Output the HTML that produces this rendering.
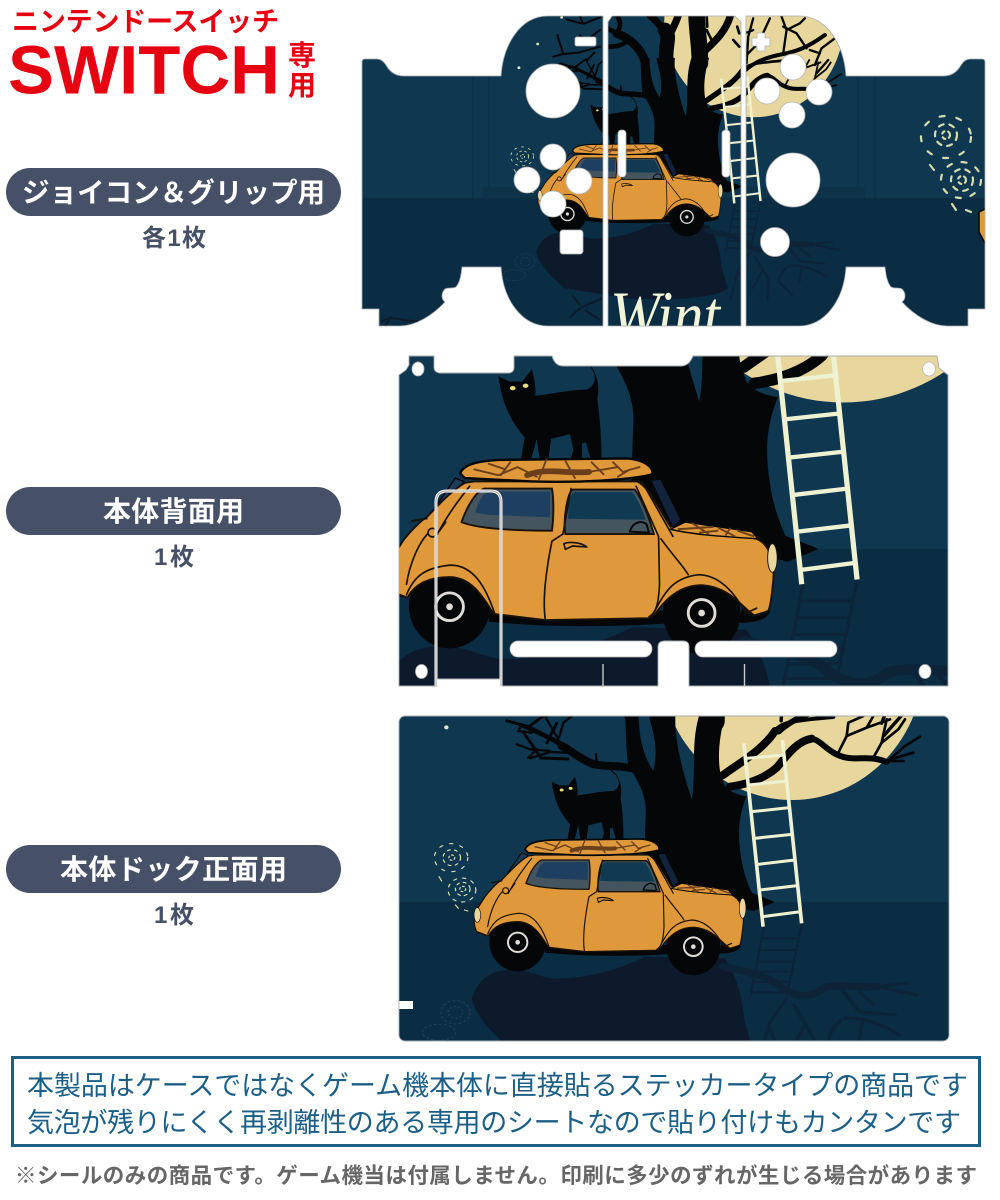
<!DOCTYPE html>
<html lang="ja"><head><meta charset="utf-8"><title>Switch skin</title>
<style>html,body{margin:0;padding:0;background:#fff}svg{display:block}
text{font-family:"Liberation Sans","Noto Sans CJK JP",sans-serif}</style></head><body>
<svg xmlns="http://www.w3.org/2000/svg" width="1000" height="1200" viewBox="0 0 1000 1200">
<defs>
<path id="sJL" d="M362,62 Q362,59 365,59 L377,59 Q382,59 386,65 Q392,76 404,76 L501,76 C503,45 520,16 548,16 L603,16 L603,326 L548,326 C522,326 503,300 501,267 L462,267 C461,276 460,282 456,287 C452,289 449,287 445,289 C441,293 441,299 445,302 C432,316 415,326 400,326 L379,326 L379,309 L362,309 Z"/>
<path id="sJR" d="M985,62 Q985,59 982,59 L970,59 Q965,59 961,65 Q955,76 943,76 L846,76 C844,45 827,16 799,16 L746,16 L746,326 L799,326 C825,326 844,300 846,267 L885,267 C886,276 887,282 891,287 C895,289 898,287 902,289 C906,293 906,299 902,302 C915,316 932,326 947,326 L968,326 L968,309 L985,309 Z"/>
<path id="sJM" d="M608,22 L612,16 L735,16 L741,22 L741,326 L608,326 Z"/>
<path id="sB" d="M399,375 L406,370 L409,365 L409,356 L434,356 L434,367 Q434,373 441,373 L508,373 Q514,373 514,367 L514,356 L552,356 Q555,366 563,366 L681,366 Q689,366 693,356 L937,356 L939,368 L948,375 L948,686 L689,686 L689,647 Q689,641 683,641 L665,641 Q658,641 658,647 L658,686 L502,686 L502,679 L437,679 L437,686 L399,686 Z"/>

<g id="art">
 <!-- moon -->
 <ellipse cx="792" cy="662" rx="132" ry="138" fill="#e8d79c"/>
 <g transform="translate(390,705) scale(.36364,.33333)">
  <!-- reflection -->
  <path d="M225,880 C240,830 270,800 320,795 C370,790 400,810 440,820 C520,825 620,800 700,755 L920,760 C950,800 970,880 975,950 C985,980 990,1010 1000,1040 C960,1080 800,1095 600,1085 L340,1040 C300,1000 240,950 225,880 Z" fill="#0c1a2b"/>
  <g fill="none" stroke="#0c2338" stroke-linecap="round">
   <path stroke-width="22" d="M915,785 C980,800 1040,810 1080,850 C1120,880 1160,880 1190,850 C1230,835 1280,850 1340,845"/>
   <path stroke-width="9" d="M1340,845 L1450,870 M1340,845 L1420,835 M1240,850 L1290,920 L1390,930 M1290,860 L1330,900 M1090,880 L1040,960 L1030,1010 M1110,900 L1165,1000 M1040,960 L1060,1010 M1250,940 C1300,935 1360,960 1400,990 M1240,945 C1215,970 1210,990 1205,1010 M1300,950 L1290,1010 M1140,960 L1100,1040 M1165,1000 L1160,1090 M1205,1010 L1260,1070 M1030,1010 L1010,1090"/>
   <path stroke-width="6" d="M1028,668 L990,880 M1132,660 L1095,850 M1022,700 L1122,700 M1018,735 L1118,735 M1012,770 L1113,770 M1006,800 L1108,800 M1000,832 L1100,830 M995,862 L1095,862"/>
  </g>
  <circle cx="155" cy="67" r="6" fill="#e7e9cf"/>
  <!-- spirals -->
  <g fill="none" stroke="#d5dcae" stroke-width="3.4" stroke-linecap="round">
   <circle cx="170" cy="458" r="8" stroke-dasharray="5 7"/><circle cx="170" cy="458" r="24" stroke-dasharray="8 12"/><ellipse cx="168" cy="458" rx="46" ry="42" stroke-dasharray="9 20"/>
   <circle cx="200" cy="552" r="8" stroke-dasharray="5 7"/><circle cx="200" cy="552" r="20" stroke-dasharray="8 11"/><ellipse cx="198" cy="555" rx="38" ry="36" stroke-dasharray="9 16"/>
   <path d="M135,515 L142,528 M180,600 L188,610 M205,615 L214,618"/>
  </g>
  <g fill="none" stroke="#1f4159" stroke-width="3">
   <ellipse cx="180" cy="922" rx="40" ry="35" stroke-dasharray="8 6"/><ellipse cx="180" cy="922" rx="20" ry="18" stroke-dasharray="6 6"/>
   <ellipse cx="135" cy="982" rx="46" ry="24" stroke-dasharray="8 6"/>
  </g>
 </g>

 <!-- tree + cat -->
 <g transform="translate(500,716) scale(.33333)">
  <path fill="#040608" d="M375,-10 L415,-10 C418,60 425,110 460,165 C478,90 455,40 445,-10 L527,-10 C520,70 550,170 575,250 C590,170 570,80 600,-10 L678,-10 C660,50 652,110 660,165 L672,205 C680,225 720,240 740,240 C715,300 714,350 720,400 C725,450 740,500 756,531 L825,558 L760,585 L430,500 L437,300 C440,260 430,215 385,150 C378,100 378,50 375,-10Z"/>
  <g fill="none" stroke="#040608" stroke-linecap="round" stroke-linejoin="round">
   <path stroke-width="24" d="M400,158 C350,145 300,155 270,140 C240,128 215,105 185,90"/>
   <path stroke-width="12" d="M190,92 C150,65 110,48 65,28"/>
   <path stroke-width="7" d="M65,28 L40,20 M175,70 L140,10 L135,-5 M178,62 L190,20 L215,0 M62,30 L55,45 L95,50 M200,110 L150,108 L90,127 M150,105 L90,100 L50,85 M110,100 L85,125 M290,135 L288,115"/>
   <path stroke-width="24" d="M690,212 C740,205 790,190 830,155 C860,120 890,75 935,68"/>
   <path stroke-width="18" d="M935,68 C965,72 985,115 1040,125 C1080,132 1110,118 1160,138"/>
   <path stroke-width="24" d="M668,178 C720,140 790,100 825,45"/>
   <path stroke-width="12" d="M825,45 C845,15 900,12 1000,3"/>
   <path stroke-width="8" d="M1015,110 L1040,60 L1045,20 L1090,0 M1040,60 L1100,35 L1170,10 M1120,125 L1145,80 L1195,40 M1160,138 L1215,90 L1260,62 M1170,130 L1240,110 M1165,135 L1210,135 M1100,35 L1120,0 M1145,80 L1160,10 M1195,40 L1215,10"/>
  </g>
  <!-- upper part only seen on the joycon -->
  <g transform="translate(-244.4,-220.9) scale(1.47)" fill="none" stroke="#040608" stroke-linecap="round" stroke-linejoin="round">
   <path stroke-width="26" d="M436,158 C425,120 400,90 350,70"/>
   <path stroke-width="14" d="M350,70 L322,55 M380,95 C360,110 340,110 322,110 M350,70 C370,40 355,25 350,15"/>
   <path stroke-width="44" d="M500,160 C492,110 515,80 495,60"/>
   <path stroke-width="22" d="M500,70 C480,45 465,30 450,15 M510,75 C520,50 530,35 535,15"/>
   <path stroke-width="50" d="M600,160 C600,100 590,60 590,10"/>
   <path stroke-width="22" d="M612,125 C650,90 680,60 692,15"/>
   <path stroke-width="8" d="M640,100 L620,60 M700,90 L718,110 M712,50 L718,70 M622,50 L620,15"/>
   <path stroke-width="12" d="M735,182 C770,150 810,140 850,132 C885,125 920,115 975,75"/>
   <path stroke-width="7" d="M850,130 L860,60 L900,40 M740,160 L745,80 L760,25 M780,90 L810,25 M920,115 L890,70 L850,50 M860,60 L845,20 M900,40 L915,25 M945,165 L965,115 L1005,85 M960,130 L930,120 M985,150 L950,190 M735,140 L775,100 M760,60 L735,70"/>
   <g stroke-width="6">
    <path d="M300,22 L250,42 L200,28 M250,42 L240,20 M300,60 L255,95 L240,75 M300,110 L235,128 L190,132 L172,75 M190,132 L160,140 M305,212 L225,172 L180,160 M305,238 L250,236 L215,185 M262,150 L283,128 M262,205 L282,165 M225,172 L255,150"/>
   </g>
   <circle cx="113" cy="102" r="4" fill="#e7e9cf" stroke="none"/>
   <circle cx="185" cy="22" r="4" fill="#e7e9cf" stroke="none"/>
  </g>
  <!-- cat -->
  <path fill="#040608" d="M155,197 L178,208 L205,208 L225,183 C232,205 234,232 232,238 C265,235 300,225 340,225 C360,215 362,195 345,175 C325,160 330,158 335,162 C360,180 368,215 362,245 C368,290 372,340 370,380 L352,385 L338,335 L330,338 C330,355 330,375 326,385 L300,385 L312,352 L305,318 L265,328 L258,385 L245,392 L235,328 L220,385 L200,385 L210,325 C190,300 165,270 155,197Z"/>
  <ellipse cx="185" cy="222" rx="6" ry="4.5" fill="#e8dc80"/><ellipse cx="212" cy="217" rx="6" ry="4.5" fill="#e8dc80"/>
 </g>

 <!-- car -->
 <g transform="translate(465,830) scale(.33333)">
  <path d="M115,148 L170,68 L188,75 L135,152 Z" fill="#1c3c5c" stroke="#040608" stroke-width="3"/>
  <path d="M578,72 L600,70 L642,155 L625,172 Z" fill="#12233b" stroke="#040608" stroke-width="3"/>
  <ellipse cx="158" cy="335" rx="85" ry="89" fill="#040608"/>
  <ellipse cx="685" cy="350" rx="81" ry="86" fill="#040608"/>
  <path d="M240,345 L610,345 L610,372 C500,380 350,380 240,368Z" fill="#040608"/>
  <path d="M770,340 L828,345 C825,365 790,372 760,370Z" fill="#040608"/>
  <!-- body -->
  <path d="M28,268 C30,240 45,225 60,200 C75,180 100,155 110,150 C130,130 160,95 190,78 L210,75 L550,75 C575,85 600,140 620,170 L640,165 L800,195 C825,205 838,240 835,280 C832,310 830,330 825,345 C815,350 805,352 795,355 C770,340 745,295 685,292 C640,292 610,320 588,352 L575,361 L360,365 L250,352 C225,310 200,275 158,275 C115,275 85,290 70,318 L35,305 C30,295 26,285 28,268 Z" fill="#e0993a" stroke="#1a1208" stroke-width="4" stroke-linejoin="round"/>
  <!-- windows -->
  <path d="M183,160 C195,125 215,95 230,90 L372,90 C376,110 376,150 372,178 C300,178 220,175 183,160 Z" fill="#44555f" stroke="#1a1208" stroke-width="4"/>
  <path d="M212,140 C218,115 230,98 240,96 L368,96 L368,150 L240,145 Z" fill="#1f3f60"/>
  <path d="M400,185 C395,150 405,100 415,92 L545,92 C560,110 575,150 585,185 Z" fill="#44555f" stroke="#1a1208" stroke-width="4"/>
  <path d="M406,153 C406,120 411,100 419,97 L540,97 C550,110 560,130 568,155 Z" fill="#0f3a52"/>
  <path d="M535,180 C540,160 560,155 570,165 L575,182 Z" fill="none" stroke="#040608" stroke-width="4"/>
  <!-- lines -->
  <g fill="none" stroke="#1a1208" stroke-width="3.5" stroke-linecap="round" stroke-linejoin="round">
   <path d="M412,90 L395,185 L372,200 C360,260 352,320 358,362"/>
   <path d="M548,85 L595,190 L597,290 C595,330 590,350 575,358"/>
   <path d="M560,75 L625,190 M600,195 C625,230 645,250 657,270"/>
   <path d="M68,312 C85,270 110,255 160,250 C210,250 235,300 252,350"/>
   <path d="M585,350 C610,300 630,275 680,270 C730,272 760,320 778,350 L800,340"/>
   <path d="M397,205 C410,200 435,203 445,212 L415,210 L400,217 Z"/>
   <path d="M115,182 C95,200 75,245 68,290 M150,160 C130,190 120,200 115,182 M200,85 C180,110 150,150 130,190"/>
   <path d="M35,305 L68,318"/>
  </g>
  <circle cx="122" cy="182" r="9" fill="#e0993a" stroke="#1a1208" stroke-width="3.5"/>
  <path d="M78,158 L112,152" stroke="#1a1208" stroke-width="4"/>
  <ellipse cx="37" cy="255" rx="10" ry="22" fill="#e8d79c" stroke="#1a1208" stroke-width="2"/>
  <ellipse cx="833" cy="235" rx="10" ry="30" fill="#e8d79c" stroke="#1a1208" stroke-width="2"/>
  <!-- rims -->
  <circle cx="158" cy="337" r="29" fill="#040608" stroke="#e0dcd8" stroke-width="6"/><circle cx="158" cy="337" r="7" fill="#e0dcd8"/>
  <circle cx="685" cy="350" r="28" fill="#040608" stroke="#e0dcd8" stroke-width="6"/><circle cx="685" cy="350" r="7" fill="#e0dcd8"/>
  <!-- roof -->
  <path d="M180,58 C190,35 230,32 260,30 L530,27 C565,30 585,45 582,60 C540,72 430,78 330,75 L190,68 Z" fill="#e0993a" stroke="#040608" stroke-width="5"/>
  <g fill="none" stroke="#6b3f1c" stroke-linecap="round">
   <path stroke-width="12" d="M320,62 C360,45 400,60 450,55"/>
   <path stroke-width="4" d="M210,50 L260,62 L300,45 M240,38 L275,50 M300,45 L340,65 M360,30 L345,70 M400,32 L420,68 M455,35 L480,60 M500,35 L520,55 L555,45 M510,65 L535,50 M450,55 L510,45 M285,35 L265,62"/>
  </g>
  <!-- hood -->
  <path d="M620,175 L650,160 L790,180 L803,195 C720,190 660,185 620,175Z" fill="#e0993a" stroke="#040608" stroke-width="3"/>
  <g fill="none" stroke="#6b3f1c" stroke-width="4"><path d="M635,175 L710,170 M665,162 L700,185 M720,172 L755,190 M760,178 L795,190 M745,172 L735,188 M680,182 L720,178"/></g>
 </g>

 <!-- ladder -->
 <g transform="translate(390,705) scale(.36364,.33333)" fill="none" stroke="#eef2d2" stroke-width="10">
  <path d="M973,115 L1026,665 M1079,105 L1132,655"/>
  <path stroke-width="9" d="M980,160 L1085,150 M986,240 L1092,228 M995,320 L1098,308 M1003,400 L1105,388 M1012,478 L1113,465 M1018,555 L1120,542 M1025,635 L1130,620"/>
 </g>
</g>
<clipPath id="cJL"><use href="#sJL"/></clipPath>
<clipPath id="cJR"><use href="#sJR"/></clipPath>
<clipPath id="cJM"><use href="#sJM"/></clipPath>
<clipPath id="cB"><use href="#sB"/></clipPath>
<clipPath id="cD"><rect x="399" y="716" width="550" height="325" rx="6"/></clipPath>

<g id="joyScene">
 <rect x="350" y="0" width="650" height="198" fill="#0f3850"/>
 <rect x="350" y="198" width="650" height="140" fill="#0a2d44"/>
 <rect x="483" y="187" width="382" height="11" fill="#0e3349"/>
 <path d="M473,76 V198 M489,76 V187 M858,76 V187 M875,76 V198" stroke="#0c3045" stroke-width="1.2"/>
 <use href="#art" transform="matrix(.68 0 0 .68 215.4 -426.8)"/>
 <g fill="none" stroke="#d5dcae" stroke-width="2.2" stroke-linecap="round">
  <circle cx="946" cy="135" r="4" stroke-dasharray="3 4"/><circle cx="946" cy="135" r="11" stroke-dasharray="5 6"/><ellipse cx="946" cy="137" rx="25" ry="21" stroke-dasharray="5 12"/>
  <circle cx="962" cy="180" r="4" stroke-dasharray="3 4"/><circle cx="962" cy="180" r="11" stroke-dasharray="5 6"/><ellipse cx="961" cy="180" rx="20" ry="18" stroke-dasharray="5 10"/>
  <path d="M930,165 L934,170 M952,204 L956,210 M966,210 L971,212"/>
 </g>
 <path d="M979,212 L987,208 L987,247 L979,232 Z" fill="#e0993a" stroke="#040608" stroke-width="1.5"/>
 <path d="M381,322 C392,314 402,322 418,321 M392,316 L385,326 M570,318 C580,305 590,305 602,298 M580,305 L572,295 M585,310 L600,320" stroke="#0c1a2b" stroke-width="2" fill="none"/>
 <text x="610" y="338" font-size="68" font-style="italic" fill="#f2f4d8" textLength="110" lengthAdjust="spacingAndGlyphs" style="font-family:'Liberation Serif','Noto Serif CJK SC',serif">Wint</text>
</g>
</defs>

<rect width="1000" height="1200" fill="#fff"/>

<!-- header -->
<text x="12" y="31" font-size="27" font-weight="700" fill="#e60012" textLength="267">ニンテンドースイッチ</text>
<text x="8" y="93.5" font-size="69" font-weight="700" fill="#e60012" textLength="272" lengthAdjust="spacingAndGlyphs">SWITCH</text>
<text x="288" y="65" font-size="28" font-weight="700" fill="#e60012">専</text>
<text x="288" y="95" font-size="28" font-weight="700" fill="#e60012">用</text>

<!-- pills -->
<rect x="6" y="168" width="335" height="48" rx="24" fill="#465066"/>
<text x="22" y="202" font-size="27.5" font-weight="700" fill="#fff" textLength="303">ジョイコン＆グリップ用</text>
<text x="142" y="246" font-size="24" font-weight="700" fill="#465066" textLength="64">各1枚</text>

<rect x="6" y="487" width="335" height="48" rx="24" fill="#465066"/>
<text x="103" y="521" font-size="28" font-weight="700" fill="#fff" textLength="141">本体背面用</text>
<text x="154" y="565" font-size="24" font-weight="700" fill="#465066" textLength="40">1枚</text>

<rect x="6" y="845" width="335" height="48" rx="24" fill="#465066"/>
<text x="60" y="879" font-size="28" font-weight="700" fill="#fff" textLength="227">本体ドック正面用</text>
<text x="154" y="923" font-size="24" font-weight="700" fill="#465066" textLength="40">1枚</text>

<!-- joycon skin -->
<g clip-path="url(#cJL)"><use href="#joyScene"/></g>
<g clip-path="url(#cJM)"><use href="#joyScene"/></g>
<g clip-path="url(#cJR)"><use href="#joyScene"/></g>
<g fill="none" stroke="#a8adb0" stroke-width=".8"><use href="#sJL"/><use href="#sJM"/><use href="#sJR"/></g>
<g fill="#fff" stroke="#b5b5b5" stroke-width=".8">
 <circle cx="553" cy="91" r="27"/>
 <rect x="575" y="37" width="21" height="9" rx="2"/>
 <circle cx="553" cy="157" r="13"/><circle cx="527" cy="180" r="13"/><circle cx="579" cy="181" r="13"/><circle cx="553" cy="204" r="13"/>
 <rect x="560" y="230" width="23" height="24" rx="3"/>
 <path d="M757,33 h8 v5 h5 v8 h-5 v5 h-8 v-5 h-5 v-8 h5 z"/>
 <circle cx="793" cy="67" r="13"/><circle cx="767" cy="91" r="13"/><circle cx="819" cy="92" r="13"/><circle cx="792" cy="115" r="13"/>
 <circle cx="793" cy="180" r="27"/>
 <circle cx="775" cy="242" r="14.5"/>
 <rect x="618" y="130" width="8" height="47" rx="3.5"/>
 <rect x="722" y="130" width="8" height="47" rx="3.5"/>
</g>

<!-- back skin -->
<g clip-path="url(#cB)">
 <rect x="399" y="356" width="550" height="193" fill="#0f3850"/>
 <rect x="399" y="549" width="550" height="140" fill="#0a2d44"/>
 <use href="#art" transform="matrix(1.435 0 0 1.435 -293.3 -745.5)"/>
</g>
<use href="#sB" fill="none" stroke="#a8adb0" stroke-width=".9"/>
<g fill="#fff" stroke="#b5b5b5" stroke-width=".8">
 <ellipse cx="418" cy="369" rx="6" ry="7"/><ellipse cx="929" cy="369" rx="6.5" ry="7"/>
 <ellipse cx="421.5" cy="671.5" rx="6" ry="7"/><ellipse cx="925" cy="671.5" rx="6" ry="7"/>
 <rect x="510" y="641" width="142" height="16" rx="8"/>
 <rect x="695" y="641" width="142" height="16" rx="8"/>
</g>
<path d="M436,686 V502 Q436,491 447,491 H491 Q501,491 501,502 V686" fill="none" stroke="#fff" stroke-width="3"/>
<path d="M436,686 V502 Q436,491 447,491 H491 Q501,491 501,502 V686" fill="none" stroke="#b0b0b0" stroke-width="1.2"/>
<path d="M603,664 V687 M744.5,664 V687" stroke="#c8c8c8" stroke-width="1.4"/>

<!-- dock skin -->
<g clip-path="url(#cD)">
 <rect x="399" y="716" width="550" height="186" fill="#0f3850"/>
 <rect x="399" y="902" width="550" height="140" fill="#0a2d44"/>
 <use href="#art"/>
 <rect x="398" y="1001" width="15" height="8" fill="#fff"/>
</g>
<rect x="399" y="716" width="550" height="325" rx="6" fill="none" stroke="#a8adb0" stroke-width=".9"/>

<!-- notice -->
<rect x="12.5" y="1057.5" width="967" height="88" fill="#fff" stroke="#1c5f86" stroke-width="3"/>
<text x="27" y="1095" font-size="27" fill="#1c5f86" textLength="941">本製品はケースではなくゲーム機本体に直接貼るステッカータイプの商品です</text>
<text x="27" y="1132" font-size="27" fill="#1c5f86" textLength="934">気泡が残りにくく再剥離性のある専用のシートなので貼り付けもカンタンです</text>
<text x="15" y="1183" font-size="21.5" font-weight="700" fill="#666" textLength="962">※シールのみの商品です。ゲーム機当は付属しません。印刷に多少のずれが生じる場合があります</text>
</svg>
</body></html>
